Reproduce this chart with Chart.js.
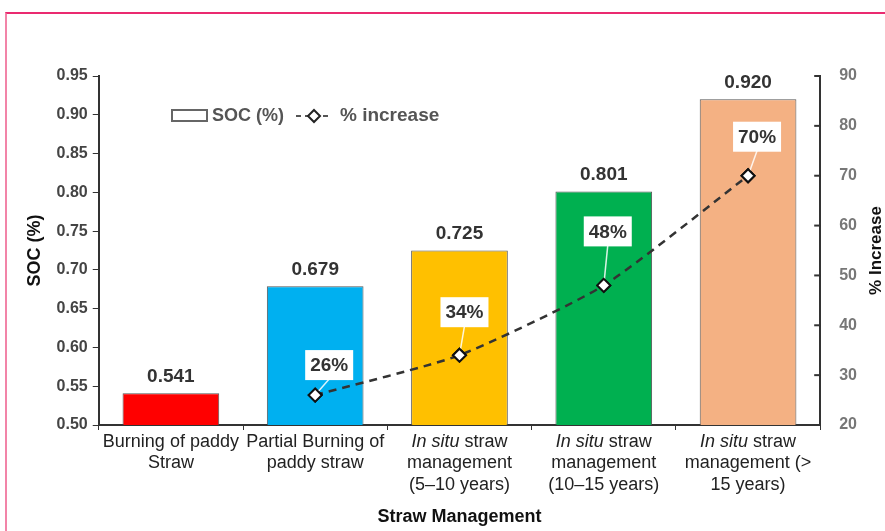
<!DOCTYPE html>
<html>
<head>
<meta charset="utf-8">
<script src="https://cdn.jsdelivr.net/npm/chart.js@4.4.1/dist/chart.umd.min.js"></script>
<style>
  html, body { margin: 0; padding: 0; background: #fff; }
  #wrap { position: relative; width: 885px; height: 531px; overflow: hidden; }
  #frame { position: absolute; left: 5px; top: 12px; width: 900px; height: 560px;
           border-top: 2px solid #ea2a70; border-left: 2px solid #f284a8; }
  canvas { position: absolute; left: 0; top: 0; }
</style>
</head>
<body>
<div id="wrap">
  <canvas id="myChart" width="885" height="531"></canvas>
  <div id="frame"></div>
</div>
<script>
// categories (first line may have an italic "In situ" prefix)
let categories = [
    ['Burning of paddy', 'Straw'],
    ['Partial Burning of', 'paddy straw'],
    ['In situ straw', 'management', '(5–10 years)'],
    ['In situ straw', 'management', '(10–15 years)'],
    ['In situ straw', 'management (>', '15 years)'],
];
let socValues = [0.541, 0.679, 0.725, 0.801, 0.920];
let increaseValues = [null, 26, 34, 48, 70];
let barColors = ['#ff0000', '#00b0f0', '#ffc000', '#00b050', '#f4b183'];

// label box offsets from each point (style only)
let labelOffsets = [null, [14, -30], [5, -43], [4, -54], [9, -39]];

const FONT = "'Liberation Sans', Arial, sans-serif";

let labelPlugin = {
    id: 'labelPlugin',
    afterDatasetsDraw(chart) {
        const ctx = chart.ctx;
        const area = chart.chartArea;
        const barMeta = chart.getDatasetMeta(1);
        const lineMeta = chart.getDatasetMeta(0);
        ctx.save();

        // inward ticks on the right axis
        const r = chart.scales.y2;
        ctx.strokeStyle = '#333';
        ctx.lineWidth = 2;
        r.ticks.forEach(t => {
            const y = r.getPixelForValue(t.value);
            ctx.beginPath();
            ctx.moveTo(area.right - 6, y);
            ctx.lineTo(area.right, y);
            ctx.stroke();
        });

        // bar values
        ctx.font = 'bold 19px ' + FONT;
        ctx.fillStyle = '#333';
        ctx.textAlign = 'center';
        ctx.textBaseline = 'bottom';
        barMeta.data.forEach((bar, i) => {
            ctx.fillText(socValues[i].toFixed(3), bar.x, bar.y - 7);
        });

        // % increase boxes
        lineMeta.data.forEach((pt, i) => {
            if (increaseValues[i] == null) return;
            const off = labelOffsets[i];
            const bx = pt.x + off[0], by = pt.y + off[1];
            ctx.strokeStyle = 'rgba(255,255,255,0.85)';
            ctx.lineWidth = 1.5;
            ctx.beginPath();
            ctx.moveTo(pt.x, pt.y);
            ctx.lineTo(bx, by + 14);
            ctx.stroke();
            ctx.fillStyle = '#fff';
            ctx.fillRect(bx - 24, by - 15, 48, 30);
            ctx.font = 'bold 19px ' + FONT;
            ctx.fillStyle = '#333';
            ctx.textBaseline = 'middle';
            ctx.fillText(increaseValues[i] + '%', bx, by + 1);
        });
        // redraw points on top of leader lines
        lineMeta.data.forEach((pt, i) => {
            if (increaseValues[i] == null) return;
            pt.draw(ctx);
        });

        // category labels under x axis
        const xs = chart.scales.x;
        ctx.fillStyle = '#222';
        ctx.textBaseline = 'middle';
        categories.forEach((lines, i) => {
            const x = xs.getPixelForTick(i);
            lines.forEach((ln, j) => {
                const y = area.bottom + 17 + j * 21.5;
                if (j === 0 && ln.startsWith('In situ')) {
                    const a = 'In situ', b = ln.slice(7);
                    ctx.font = 'italic 18px ' + FONT;
                    const wa = ctx.measureText(a).width;
                    ctx.font = '18px ' + FONT;
                    const wb = ctx.measureText(b).width;
                    const x0 = x - (wa + wb) / 2;
                    ctx.textAlign = 'left';
                    ctx.font = 'italic 18px ' + FONT;
                    ctx.fillText(a, x0, y);
                    ctx.font = '18px ' + FONT;
                    ctx.fillText(b, x0 + wa, y);
                } else {
                    ctx.textAlign = 'center';
                    ctx.font = '18px ' + FONT;
                    ctx.fillText(ln, x, y);
                }
            });
        });

        // x title
        ctx.textAlign = 'center';
        ctx.font = 'bold 18px ' + FONT;
        ctx.fillStyle = '#111';
        ctx.fillText('Straw Management', (area.left + area.right) / 2, 517);

        // right title (reads bottom to top)
        ctx.save();
        ctx.translate(876, (area.top + area.bottom) / 2);
        ctx.rotate(-Math.PI / 2);
        ctx.font = 'bold 17px ' + FONT;
        ctx.fillText('% Increase', 0, 0);
        ctx.restore();

        // legend
        const lx = 172, ly = 115;
        ctx.strokeStyle = '#666';
        ctx.lineWidth = 2;
        ctx.fillStyle = '#fff';
        ctx.fillRect(lx, ly - 5, 35, 11);
        ctx.strokeRect(lx, ly - 5, 35, 11);
        ctx.font = 'bold 18px ' + FONT;
        ctx.fillStyle = '#555';
        ctx.textAlign = 'left';
        ctx.textBaseline = 'middle';
        ctx.fillText('SOC (%)', lx + 40, ly + 1);
        ctx.strokeStyle = '#555';
        ctx.setLineDash([5, 4]);
        ctx.beginPath();
        ctx.moveTo(lx + 124, ly + 1);
        ctx.lineTo(lx + 160, ly + 1);
        ctx.stroke();
        ctx.setLineDash([]);
        ctx.beginPath();
        ctx.moveTo(lx + 142, ly - 5);
        ctx.lineTo(lx + 148, ly + 1);
        ctx.lineTo(lx + 142, ly + 7);
        ctx.lineTo(lx + 136, ly + 1);
        ctx.closePath();
        ctx.fillStyle = '#fff';
        ctx.fill();
        ctx.strokeStyle = '#222';
        ctx.stroke();
        ctx.fillStyle = '#555';
        ctx.font = 'bold 19px ' + FONT;
        ctx.fillText('% increase', lx + 168, ly + 1);

        ctx.restore();
    }
};

let myChart = document.getElementById('myChart').getContext('2d');

let chart = new Chart(myChart, {
    type: 'bar',
    data: {
        labels: categories,
        datasets: [{
            type: 'line',
            label: '% increase',
            data: increaseValues,
            yAxisID: 'y2',
            order: 0,
            borderColor: '#333',
            borderWidth: 2.5,
            borderDash: [8, 6],
            tension: 0.2,
            pointStyle: 'rectRot',
            pointRadius: 6.5,
            pointBackgroundColor: '#fff',
            pointBorderColor: '#111',
            pointBorderWidth: 2,
            fill: false
        }, {
            type: 'bar',
            label: 'SOC (%)',
            data: socValues,
            yAxisID: 'y',
            order: 1,
            backgroundColor: barColors,
            borderColor: '#555',
            borderWidth: 1,
            borderSkipped: false,
            barPercentage: 0.67,
            categoryPercentage: 1
        }]
    },
    options: {
        responsive: false,
        animation: false,
        layout: {
            padding: { left: 24, right: 9, top: 76, bottom: 0 }
        },
        plugins: {
            legend: { display: false },
            tooltip: { enabled: false }
        },
        scales: {
            x: {
                offset: true,
                border: { color: '#333', width: 2 },
                grid: { display: true, drawOnChartArea: false, color: '#333', tickLength: 5, offset: true },
                ticks: { display: false },
                afterFit(scale) { scale.height = 106; }
            },
            y: {
                position: 'left',
                min: 0.5,
                max: 0.95,
                border: { color: '#333', width: 2 },
                grid: { drawOnChartArea: false, color: '#333', tickLength: 6 },
                ticks: {
                    stepSize: 0.05,
                    padding: 5,
                    color: '#444',
                    font: { family: FONT, size: 16, weight: 'bold' },
                    callback: v => v.toFixed(2)
                },
                title: {
                    display: true,
                    text: 'SOC (%)',
                    color: '#111',
                    padding: { top: 0, bottom: 6 },
                    font: { family: FONT, size: 18, weight: 'bold' }
                }
            },
            y2: {
                position: 'right',
                min: 20,
                max: 90,
                border: { color: '#333', width: 2 },
                grid: { drawOnChartArea: false, drawTicks: false },
                ticks: {
                    stepSize: 10,
                    padding: 19,
                    color: '#777',
                    font: { family: FONT, size: 16, weight: 'bold' }
                }
            }
        }
    },
    plugins: [labelPlugin]
});
</script>
</body>
</html>
